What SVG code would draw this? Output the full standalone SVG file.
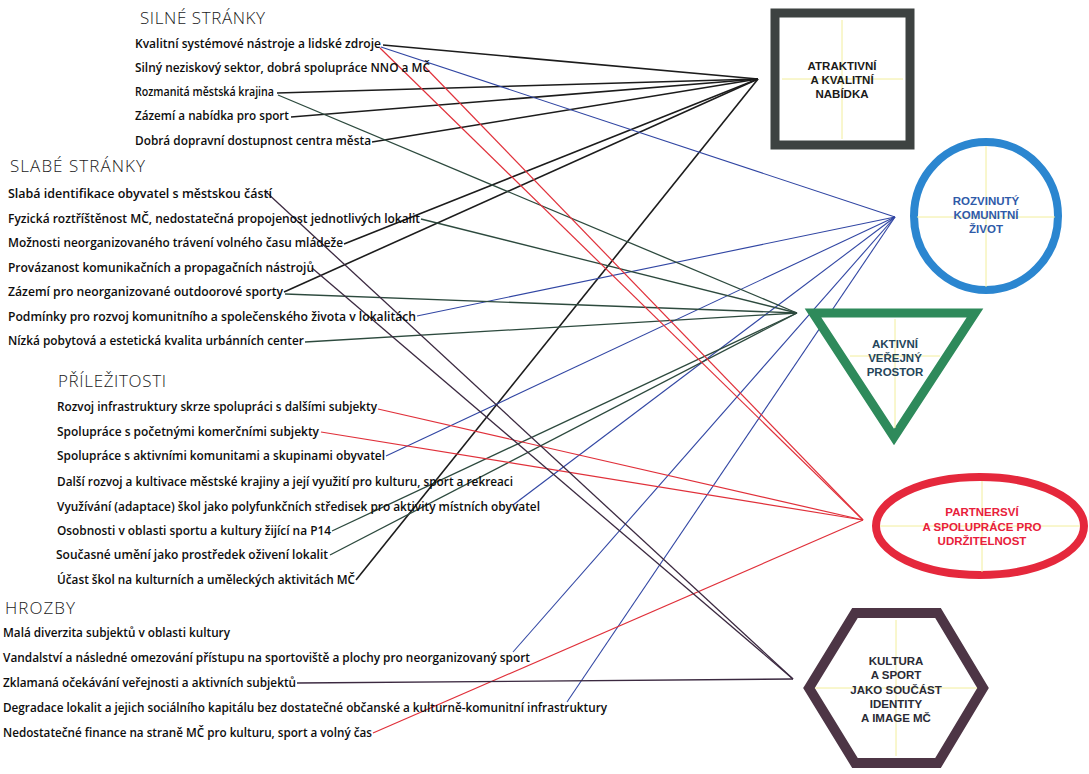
<svg xmlns="http://www.w3.org/2000/svg" width="1089" height="774" viewBox="0 0 1089 774">
<style>
.h{font-family:"Open Sans","Liberation Sans",sans-serif;font-weight:300;font-size:17px;fill:#1a1a1a}
.t{font-family:"Open Sans","Liberation Sans",sans-serif;font-weight:600;font-size:12px;fill:#0d0d0d}
.n{font-family:"Liberation Sans",Arial,sans-serif;font-weight:700;font-size:11.5px;text-anchor:middle}
.x{stroke:#f2ee9c;stroke-width:1;fill:none}
.ca{stroke:#1c1c1c;stroke-width:1.6;fill:none}
.cb{stroke:#3146a3;stroke-width:1.1;fill:none}
.cc{stroke:#2d4a3e;stroke-width:1.3;fill:none}
.cd{stroke:#e0303a;stroke-width:1.2;fill:none}
.ce{stroke:#3b2940;stroke-width:1.3;fill:none}
</style>
<rect width="1089" height="774" fill="#fff"/>

<g id="connectors">
<line class="ca" x1="383" y1="45" x2="758" y2="79"/>
<line class="ca" x1="277" y1="93" x2="758" y2="79"/>
<line class="ca" x1="291" y1="117" x2="758" y2="79"/>
<line class="ca" x1="372" y1="142" x2="758" y2="79"/>
<line class="ca" x1="344" y1="244" x2="758" y2="79"/>
<line class="ca" x1="284" y1="292" x2="758" y2="79"/>
<line class="ca" x1="356" y1="580" x2="758" y2="79"/>

<line class="cb" x1="381" y1="47" x2="895" y2="217"/>
<line class="cb" x1="417" y1="316" x2="895" y2="217"/>
<line class="cb" x1="386" y1="456" x2="895" y2="217"/>
<line class="cb" x1="513" y1="505" x2="895" y2="217"/>
<line class="cb" x1="513" y1="652" x2="895" y2="217"/>
<line class="cb" x1="567" y1="702" x2="895" y2="217"/>

<line class="cc" x1="278" y1="95" x2="797" y2="313"/>
<line class="cc" x1="421" y1="219" x2="797" y2="313"/>
<line class="cc" x1="285" y1="294" x2="797" y2="313"/>
<line class="cc" x1="305" y1="342" x2="797" y2="313"/>
<line class="cc" x1="332" y1="531" x2="797" y2="313"/>
<line class="cc" x1="330" y1="555" x2="797" y2="313"/>

<line class="cd" x1="380" y1="48" x2="863" y2="520"/>
<line class="cd" x1="424" y1="66" x2="863" y2="520"/>
<line class="cd" x1="378" y1="409" x2="863" y2="520"/>
<line class="cd" x1="321" y1="432" x2="863" y2="520"/>
<line class="cd" x1="373" y1="733" x2="863" y2="520"/>

<line class="ce" x1="265" y1="191" x2="793" y2="679"/>
<line class="ce" x1="312" y1="268" x2="793" y2="679"/>
<line class="ce" x1="297" y1="683" x2="793" y2="679"/>
</g>

<g id="silne">
<text class="h" x="140" y="24" textLength="125">SILNÉ STRÁNKY</text>
<g id="s1"><text class="t" x="135" y="48" textLength="246" lengthAdjust="spacingAndGlyphs">Kvalitní systémové nástroje  a lidské zdroje</text></g>
<g id="s2"><text class="t" x="135" y="72" textLength="295" lengthAdjust="spacingAndGlyphs">Silný neziskový sektor, dobrá spolupráce NNO a MČ</text></g>
<g id="s3"><text class="t" x="135" y="96" textLength="139" lengthAdjust="spacingAndGlyphs">Rozmanitá městská krajina</text></g>
<g id="s4"><text class="t" x="135" y="120" textLength="154" lengthAdjust="spacingAndGlyphs">Zázemí a nabídka pro sport</text></g>
<g id="s5"><text class="t" x="135" y="145" textLength="236" lengthAdjust="spacingAndGlyphs">Dobrá dopravní dostupnost centra města</text></g>
</g>

<g id="slabe">
<text class="h" x="10" y="172" textLength="135">SLABÉ STRÁNKY</text>
<g id="w1"><text class="t" x="8" y="198" textLength="264" lengthAdjust="spacingAndGlyphs">Slabá identifikace obyvatel s městskou částí</text></g>
<g id="w2"><text class="t" x="8" y="222.5" textLength="412" lengthAdjust="spacingAndGlyphs">Fyzická roztříštěnost MČ, nedostatečná propojenost jednotlivých lokalit</text></g>
<g id="w3"><text class="t" x="8" y="247" textLength="335" lengthAdjust="spacingAndGlyphs">Možnosti neorganizovaného trávení volného času mládeže</text></g>
<g id="w4"><text class="t" x="8" y="271.5" textLength="306" lengthAdjust="spacingAndGlyphs">Provázanost komunikačních a propagačních nástrojů</text></g>
<g id="w5"><text class="t" x="8" y="296" textLength="275" lengthAdjust="spacingAndGlyphs">Zázemí pro neorganizované outdoorové sporty</text></g>
<g id="w6"><text class="t" x="8" y="320.5" textLength="408" lengthAdjust="spacingAndGlyphs">Podmínky pro rozvoj komunitního a společenského života v lokalitách</text></g>
<g id="w7"><text class="t" x="8" y="345" textLength="296" lengthAdjust="spacingAndGlyphs">Nízká pobytová a estetická kvalita urbánních center</text></g>
</g>

<g id="prilezitosti">
<text class="h" x="58" y="387" textLength="108">PŘÍLEŽITOSTI</text>
<g id="o1"><text class="t" x="57" y="411" textLength="320" lengthAdjust="spacingAndGlyphs">Rozvoj infrastruktury skrze spolupráci s dalšími subjekty</text></g>
<g id="o2"><text class="t" x="57" y="436" textLength="262" lengthAdjust="spacingAndGlyphs">Spolupráce s početnými komerčními subjekty</text></g>
<g id="o3"><text class="t" x="57" y="460" textLength="328" lengthAdjust="spacingAndGlyphs">Spolupráce s aktivními komunitami a skupinami obyvatel</text></g>
<g id="o4"><text class="t" x="57" y="486" textLength="456" lengthAdjust="spacingAndGlyphs">Další rozvoj a kultivace městské krajiny a její využití  pro kulturu, sport a rekreaci</text></g>
<g id="o5"><text class="t" x="57" y="511" textLength="483" lengthAdjust="spacingAndGlyphs">Využívání (adaptace) škol jako polyfunkčních středisek pro aktivity místních obyvatel</text></g>
<g id="o6"><text class="t" x="57" y="535" textLength="274" lengthAdjust="spacingAndGlyphs">Osobnosti v oblasti sportu a kultury žijící na P14</text></g>
<g id="o7"><text class="t" x="56" y="559" textLength="272" lengthAdjust="spacingAndGlyphs">Současné umění jako prostředek oživení  lokalit</text></g>
<g id="o8"><text class="t" x="57" y="584" textLength="298" lengthAdjust="spacingAndGlyphs">Účast škol na kulturních a uměleckých aktivitách MČ</text></g>
</g>

<g id="hrozby">
<text class="h" x="5" y="614" textLength="70">HROZBY</text>
<g id="h1"><text class="t" x="3" y="637" textLength="227" lengthAdjust="spacingAndGlyphs">Malá diverzita subjektů v oblasti kultury</text></g>
<g id="h2"><text class="t" x="3" y="662" textLength="527" lengthAdjust="spacingAndGlyphs">Vandalství a následné omezování přístupu na sportoviště a plochy pro neorganizovaný sport</text></g>
<g id="h3"><text class="t" x="3" y="687" textLength="293" lengthAdjust="spacingAndGlyphs">Zklamaná očekávání veřejnosti a aktivních subjektů</text></g>
<g id="h4"><text class="t" x="3" y="712" textLength="604" lengthAdjust="spacingAndGlyphs">Degradace lokalit a jejich sociálního kapitálu bez dostatečné občanské a kulturně-komunitní infrastruktury</text></g>
<g id="h5"><text class="t" x="3" y="737" textLength="369" lengthAdjust="spacingAndGlyphs">Nedostatečné finance na straně MČ pro kulturu, sport a volný čas</text></g>
</g>

<g id="node-atraktivni">
<rect x="775" y="13" width="135" height="132" fill="#fff" stroke="#3d4241" stroke-width="9"/>
<line class="x" x1="842" y1="20" x2="842" y2="139"/>
<line class="x" x1="782" y1="79" x2="903" y2="79"/>
<text class="n" fill="#1a1a1a"><tspan x="842" y="70">ATRAKTIVNÍ</tspan><tspan x="842" y="84">A KVALITNÍ</tspan><tspan x="842" y="98">NABÍDKA</tspan></text>
</g>

<g id="node-komunitni">
<ellipse cx="986" cy="216" rx="72" ry="74" fill="#fff" stroke="#2b86d0" stroke-width="8"/>
<line class="x" x1="986" y1="146" x2="986" y2="287"/>
<line class="x" x1="917" y1="217" x2="1055" y2="217"/>
<text class="n" fill="#2f5aa8"><tspan x="986" y="205">ROZVINUTÝ</tspan><tspan x="986" y="219">KOMUNITNÍ</tspan><tspan x="986" y="233">ŽIVOT</tspan></text>
</g>

<g id="node-prostor">
<polygon points="813,313 975,313 894,437" fill="#fff" stroke="#2e8a5b" stroke-width="9"/>
<line class="x" x1="895" y1="319" x2="895" y2="428"/>
<line class="x" x1="850" y1="356" x2="940" y2="356"/>
<text class="n" fill="#24455a"><tspan x="895" y="348">AKTIVNÍ</tspan><tspan x="895" y="362">VEŘEJNÝ</tspan><tspan x="895" y="376">PROSTOR</tspan></text>
</g>

<g id="node-partnerstvi">
<ellipse cx="980" cy="526" rx="104" ry="49" fill="#fff" stroke="#e5283c" stroke-width="8"/>
<line class="x" x1="982" y1="481" x2="982" y2="572"/>
<line class="x" x1="880" y1="526" x2="1080" y2="526"/>
<text class="n" fill="#e8203a"><tspan x="982" y="516">PARTNERSVÍ</tspan><tspan x="982" y="531">A SPOLUPRÁCE PRO</tspan><tspan x="982" y="545">UDRŽITELNOST</tspan></text>
</g>

<g id="node-kultura">
<polygon points="809,688 855,613 938,613 983,688 938,763 855,763" fill="#fff" stroke="#4d3545" stroke-width="10"/>
<line class="x" x1="896" y1="620" x2="896" y2="756"/>
<line class="x" x1="815" y1="688" x2="977" y2="688"/>
<text class="n" fill="#2a2a35"><tspan x="896" y="665">KULTURA</tspan><tspan x="896" y="679">A SPORT</tspan><tspan x="896" y="694">JAKO SOUČÁST</tspan><tspan x="896" y="708">IDENTITY</tspan><tspan x="896" y="722">A IMAGE MČ</tspan></text>
</g>
</svg>
